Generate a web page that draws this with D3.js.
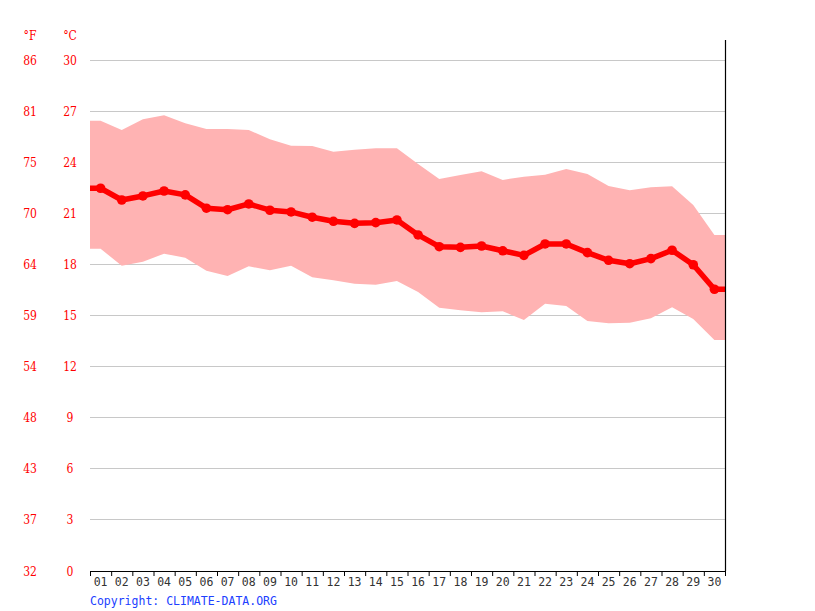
<!DOCTYPE html>
<html><head><meta charset="utf-8">
<script src="https://cdn.jsdelivr.net/npm/d3@7"></script>
<style>body{margin:0;background:#fff}svg{display:block}</style>
</head><body>
<svg id="c" width="815" height="611"></svg>
<script>
const days = ["01","02","03","04","05","06","07","08","09","10","11","12","13","14","15","16","17","18","19","20","21","22","23","24","25","26","27","28","29","30"];
const meanC = [22.47,21.78,22.02,22.31,22.08,21.30,21.21,21.55,21.18,21.08,20.77,20.53,20.41,20.45,20.61,19.73,19.04,19.00,19.08,18.80,18.53,19.20,19.20,18.69,18.24,18.04,18.34,18.83,17.98,16.54];
const maxC = [26.44,25.89,26.52,26.75,26.28,25.95,25.95,25.89,25.35,24.97,24.95,24.62,24.73,24.82,24.82,23.90,23.01,23.25,23.47,22.96,23.15,23.27,23.60,23.31,22.60,22.35,22.53,22.59,21.49,19.73];
const minC = [18.92,17.92,18.16,18.63,18.39,17.63,17.32,17.89,17.65,17.92,17.24,17.07,16.87,16.81,17.03,16.38,15.46,15.31,15.19,15.25,14.74,15.69,15.56,14.68,14.54,14.58,14.84,15.48,14.79,13.56];
const cTicks = [0,3,6,9,12,15,18,21,24,27,30];
const fTicks = ["32","37","43","48","54","59","64","70","75","81","86"];

const svg = d3.select("#c");
const L = 90, R = 725, T = 60, B = 571;
const x = d3.scaleBand().domain(days).range([L, R]);
const y = d3.scaleLinear().domain([0, 30]).range([B, T]);
const cx = d => x(d) + x.bandwidth() / 2;

// gridlines
svg.append("g").selectAll("line").data(cTicks.filter(t => t > 0)).join("line")
  .attr("x1", L).attr("x2", R).attr("y1", d => y(d)).attr("y2", d => y(d))
  .attr("stroke", "#c8c8c8").attr("stroke-width", 1).attr("shape-rendering", "crispEdges");

// band
const idx = d3.range(days.length);
const bandPts = [{x: L, i: 0}].concat(idx.map(i => ({x: cx(days[i]), i}))).concat([{x: R, i: days.length - 1}]);
svg.append("path").datum(bandPts)
  .attr("d", d3.area().x(d => d.x).y0(d => y(minC[d.i])).y1(d => y(maxC[d.i])))
  .attr("fill", "#ffb3b3");

// mean line
svg.append("path").datum(bandPts)
  .attr("d", d3.line().x(d => d.x).y(d => y(meanC[d.i])))
  .attr("fill", "none").attr("stroke", "#ff0000").attr("stroke-width", 5.5).attr("stroke-linejoin", "round");
svg.append("g").selectAll("circle").data(idx).join("circle")
  .attr("cx", i => cx(days[i])).attr("cy", i => y(meanC[i])).attr("r", 4.8).attr("fill", "#ff0000");

// right border
svg.append("line").attr("x1", R + 0.5).attr("x2", R + 0.5).attr("y1", 40).attr("y2", B)
  .attr("stroke", "#000").attr("stroke-width", 1.2);

// x axis
const xa = svg.append("g").attr("transform", `translate(0,${B})`);
xa.append("line").attr("x1", L).attr("x2", R + 1).attr("y1", 0.5).attr("y2", 0.5).attr("stroke", "#000").attr("stroke-width", 1.2);
xa.selectAll(".tk").data(days.concat(["end"])).join("line")
  .attr("x1", d => d === "end" ? R + 0.5 : x(d) + 0.5).attr("x2", d => d === "end" ? R + 0.5 : x(d) + 0.5)
  .attr("y1", 0).attr("y2", 5).attr("stroke", "#000");
xa.selectAll("text").data(days).join("text")
  .attr("x", d => cx(d)).attr("y", 15)
  .attr("text-anchor", "middle").attr("font-family", "DejaVu Sans Mono, monospace").attr("font-size", 11.5)
  .attr("fill", "#333").text(d => d);

// y labels
const yl = svg.append("g").attr("font-family", "'DejaVu Serif Condensed', 'DejaVu Serif', serif")
  .attr("font-stretch", "condensed").attr("font-size", 12).attr("fill", "#ff0000").attr("text-anchor", "middle");
yl.selectAll(".c").data(cTicks).join("text").attr("class", "c")
  .attr("x", 70).attr("y", d => y(d) + 4.5).text(d => d);
yl.selectAll(".f").data(fTicks).join("text").attr("class", "f")
  .attr("x", 30).attr("y", (d, i) => y(cTicks[i]) + 4.5).text(d => d);
yl.append("text").attr("x", 30).attr("y", 40).text("°F");
yl.append("text").attr("x", 70).attr("y", 40).text("°C");

// copyright
svg.append("text").attr("x", L).attr("y", 605).attr("font-family", "DejaVu Sans Mono, monospace")
  .attr("font-size", 11.5).attr("fill", "#2040ff").text("Copyright: CLIMATE-DATA.ORG");
</script>
</body></html>
